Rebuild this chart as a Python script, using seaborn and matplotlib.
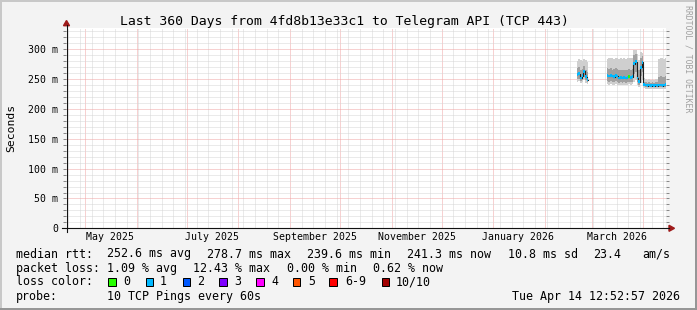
import numpy as np
import pandas as pd
import matplotlib
matplotlib.use("Agg")
import matplotlib.pyplot as plt
import matplotlib.dates as mdates
from matplotlib.ticker import MultipleLocator, FuncFormatter
from matplotlib.lines import Line2D
from matplotlib.patches import Rectangle, Polygon
import seaborn as sns

# ---------------- data ----------------
title = "Last 360 Days from 4fd8b13e33c1 to Telegram API (TCP 443)"
range_start = "2025-04-19 12:52:57"
range_end = "2026-04-14 12:52:57"

# segment 1: daily values starting 2026-02-20
seg1_start = "2026-02-20"
seg1_median = [258, 259, 252, 256, 263, 254, 249]
seg1_smoke_max = [280, 283, 282, 281, 284, 282, 278]
seg1_smoke_hi = [268, 270, 265, 267, 272, 266, 262]
seg1_smoke_lo = [250, 251, 247, 249, 253, 248, 245]
seg1_smoke_min = [246, 247, 244, 245, 248, 243, 242]
seg1_loss = [1, 1, 1, 1, 1, 1, 1]

# segment 2: daily values starting 2026-03-10
seg2_start = "2026-03-10"
seg2_median = [256, 255, 256, 255, 254, 256, 255, 252, 253, 252, 253, 252, 253, 254, 253, 254,
               276, 279, 252, 246, 270, 278,
               241, 240, 239, 240, 239, 240, 239, 240, 239, 240, 240, 239, 240, 241]
seg2_smoke_max = [284, 285, 286, 285, 284, 286, 285, 284, 285, 284, 285, 284, 285, 286, 285, 286,
                  298, 299, 292, 282, 296, 294,
                  252, 250, 249, 250, 249, 250, 249, 251, 250, 284, 286, 285, 284, 285]
seg2_smoke_hi = [268, 267, 268, 266, 267, 268, 267, 265, 266, 265, 266, 265, 266, 267, 266, 267,
                 290, 292, 275, 265, 286, 288,
                 246, 245, 244, 245, 244, 245, 244, 246, 245, 254, 255, 253, 254, 255]
seg2_smoke_lo = [247, 246, 247, 246, 245, 247, 246, 244, 245, 244, 245, 244, 245, 246, 245, 246,
                 258, 262, 246, 241, 256, 262,
                 238, 237, 236, 237, 236, 237, 236, 237, 236, 237, 236, 237, 236, 237]
seg2_smoke_min = [242, 241, 242, 241, 240, 242, 241, 240, 241, 240, 241, 240, 241, 242, 241, 242,
                  246, 248, 240, 236, 244, 248,
                  235, 234, 233, 234, 233, 234, 233, 234, 233, 234, 233, 234, 233, 234]
seg2_loss = [1, 1, 1, 1, 1, 1, 1, 1, 1, 1, 1, 1, 1, 0, 1, 1,
             1, 1, 1, 1, 1, 1,
             1, 1, 1, 1, 1, 1, 1, 1, 1, 1, 1, 1, 1, 1]

loss_labels = ["0", "1", "2", "3", "4", "5", "6-9", "10/10"]
loss_colors = ["#26ff00", "#00b8ff", "#0059ff", "#7e00ff", "#ff00ff", "#ff5500", "#ff0000", "#a10000"]

month_label_dates = ["2025-05-16", "2025-07-16", "2025-09-16", "2025-11-16", "2026-01-16", "2026-03-16"]
month_label_text = ["May 2025", "July 2025", "September 2025", "November 2025", "January 2026", "March 2026"]

stats_rows = [
    ["median rtt:", "252.6 ms avg", "278.7 ms max", "239.6 ms min", "241.3 ms now", "10.8 ms sd", "23.4", "am/s"],
    ["packet loss:", "1.09 % avg", "12.43 % max", "0.00 % min", "0.62 % now"],
]
probe_text = "10 TCP Pings every 60s"
stamp_text = "Tue Apr 14 12:52:57 2026"

# ---------------- build frame ----------------
def seg_frame(start, med, smax, shi, slo, smin, loss, sid):
    d = pd.date_range(start, periods=len(med), freq="D")
    return pd.DataFrame({"date": d, "median": med, "smax": smax, "shi": shi,
                         "slo": slo, "smin": smin, "loss": loss, "segment": sid})

df = pd.concat([
    seg_frame(seg1_start, seg1_median, seg1_smoke_max, seg1_smoke_hi, seg1_smoke_lo, seg1_smoke_min, seg1_loss, 1),
    seg_frame(seg2_start, seg2_median, seg2_smoke_max, seg2_smoke_hi, seg2_smoke_lo, seg2_smoke_min, seg2_loss, 2),
], ignore_index=True)
df["mid"] = df["date"] + pd.Timedelta(hours=12)

# ---------------- figure ----------------
W, H = 697, 310
plt.rcParams["font.family"] = ["DejaVu Sans Mono"]
fig = plt.figure(figsize=(W / 100, H / 100), dpi=100, facecolor="#f3f3f3")

def fx(x): return x / W
def fy(y): return 1 - y / H

ax_l, ax_r, ax_t, ax_b = 66, 666, 28, 228.3
ax = fig.add_axes([fx(ax_l), fy(ax_b), (ax_r - ax_l) / W, (ax_b - ax_t) / H])
ax.set_facecolor("white")

# smoke
ax.bar(df["date"], df["smax"] - df["smin"], bottom=df["smin"], width=1.0, align="edge",
       color="#cfcfcf", linewidth=0, zorder=2)
ax.bar(df["date"], df["shi"] - df["slo"], bottom=df["slo"], width=1.0, align="edge",
       color="#a0a0a0", linewidth=0, zorder=2.1)

# black median line
sns.lineplot(data=df, x="mid", y="median", units="segment", estimator=None,
             color="#202020", linewidth=0.8, drawstyle="steps-mid", ax=ax,
             legend=False, zorder=3)

# colored median band according to loss
ax.bar(df["date"], 4.5, bottom=df["median"] - 2.25, width=1.0, align="edge",
       color=[loss_colors[l] for l in df["loss"]], linewidth=0, zorder=4)

ax.set_xlim(pd.Timestamp(range_start), pd.Timestamp(range_end))
ax.set_ylim(0, 335.7)
ax.set_xlabel("")
ax.set_ylabel("")

ax.xaxis.set_major_locator(mdates.MonthLocator())
ax.xaxis.set_minor_locator(mdates.WeekdayLocator(byweekday=mdates.MO))
ax.yaxis.set_major_locator(MultipleLocator(50))
ax.yaxis.set_minor_locator(MultipleLocator(10))
ax.set_axisbelow(True)
ax.grid(which="minor", color="#d6d6d6", linestyle=(0, (1, 1)), linewidth=0.72)
ax.grid(which="major", color="#f0a4a4", linestyle=(0, (1, 1)), linewidth=0.72)
for s in ax.spines.values():
    s.set_visible(False)

ax.tick_params(axis="x", which="both", length=0, labelbottom=False)
ax.tick_params(axis="y", which="both", direction="out", length=2.2, width=0.72,
               color="#8a8a8a", left=True, right=True, labelsize=7.1, pad=3.2)
ax.yaxis.set_major_formatter(FuncFormatter(lambda v, p: "0" if v == 0 else f"{int(v)} m"))

xt = ax.get_xaxis_transform()
for d, t in zip(month_label_dates, month_label_text):
    ax.text(mdates.date2num(pd.Timestamp(d)), -(237.3 - ax_b) / (ax_b - ax_t), t,
            transform=xt, ha="center", va="center", fontsize=7.1, clip_on=False)

# axes lines and arrows
axis_col = "#111111"
arrow_col = "#9e1a1a"
fig.add_artist(Line2D([fx(62), fx(669)], [fy(228.3), fy(228.3)], color=axis_col, lw=0.8))
fig.add_artist(Line2D([fx(66.5), fx(66.5)], [fy(231.5), fy(25)], color=axis_col, lw=0.8))
fig.add_artist(Polygon([[fx(669), fy(225.3)], [fx(669), fy(231.3)], [fx(674.5), fy(228.3)]],
                       closed=True, color=arrow_col, transform=fig.transFigure))
fig.add_artist(Polygon([[fx(63.5), fy(25.7)], [fx(69.5), fy(25.7)], [fx(66.5), fy(20.5)]],
                       closed=True, color=arrow_col, transform=fig.transFigure))

# texts
fig.text(fx(344.5), fy(21.5), title, ha="center", va="center", fontsize=9.45)
fig.text(fx(11), fy(127.5), "Seconds", rotation=90, ha="center", va="center", fontsize=8.2)
fig.text(fx(688), fy(59), "RRDTOOL / TOBI OETIKER", rotation=270, ha="center", va="center",
         fontsize=5.9, color="#a0a0a0")

fs = 8.4
row_y = [254.0, 268.3, 281.7, 296.7]
row1_x = [16, 107.3, 207.3, 306.7, 407.3, 507.7, 593.3, 642.3]
row2_x = [16, 107.3, 192.7, 286.7, 372.7]
for t, x in zip(stats_rows[0], row1_x):
    fig.text(fx(x), fy(row_y[0]), t, ha="left", va="center", fontsize=fs)
for t, x in zip(stats_rows[1], row2_x):
    fig.text(fx(x), fy(row_y[1]), t, ha="left", va="center", fontsize=fs)

fig.text(fx(16), fy(row_y[2]), "loss color:", ha="left", va="center", fontsize=fs)
sq_x = [108, 145.7, 182.7, 219.3, 256, 292.7, 329.3, 381.7]
lab_x = [123, 160, 197, 234, 271, 308, 345, 396]
for c, lbl, sx, lx in zip(loss_colors, loss_labels, sq_x, lab_x):
    fig.add_artist(Rectangle((fx(sx), fy(285.5)), 7.5 / W, 8 / H, transform=fig.transFigure,
                             facecolor=c, edgecolor="black", linewidth=0.72))
    fig.text(fx(lx), fy(row_y[2]), lbl, ha="left", va="center", fontsize=fs)

fig.text(fx(16), fy(row_y[3]), "probe:", ha="left", va="center", fontsize=fs)
fig.text(fx(107.3), fy(row_y[3]), probe_text, ha="left", va="center", fontsize=fs)
fig.text(fx(680), fy(row_y[3]), stamp_text, ha="right", va="center", fontsize=fs)

# frame shading
fig.add_artist(Rectangle((0, 1 - 2 / H), 1, 2 / H, transform=fig.transFigure, color="#c8c8c8", lw=0))
fig.add_artist(Rectangle((0, 0), 2 / W, 1, transform=fig.transFigure, color="#c8c8c8", lw=0))
fig.add_artist(Rectangle((0, 0), 1, 2 / H, transform=fig.transFigure, color="#969696", lw=0))
fig.add_artist(Rectangle((1 - 2 / W, 0), 2 / W, 1, transform=fig.transFigure, color="#969696", lw=0))

fig.savefig("out.png", dpi=100, facecolor=fig.get_facecolor())
